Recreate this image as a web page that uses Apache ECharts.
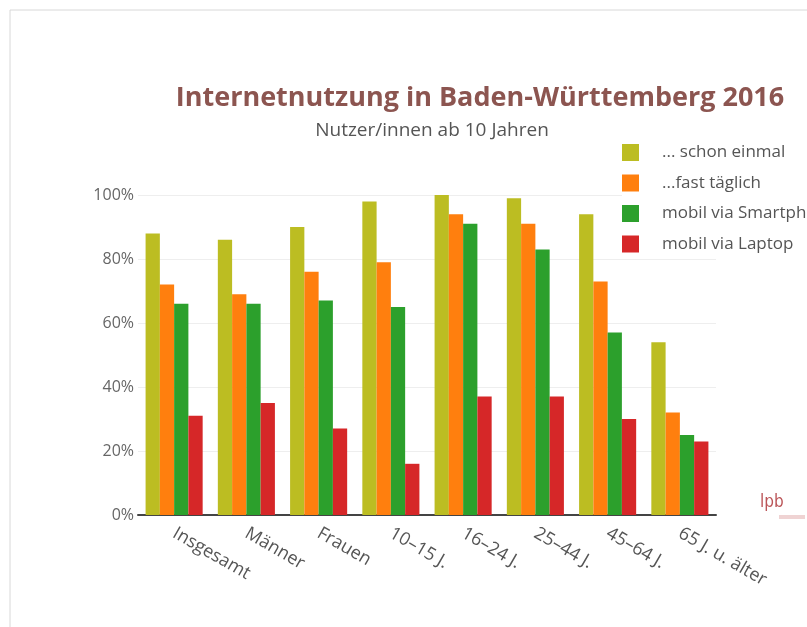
<!DOCTYPE html>
<html>
<head>
<meta charset="utf-8">
<script src="https://cdn.jsdelivr.net/npm/echarts@6/dist/echarts.min.js"></script>
<style>
html, body { margin: 0; padding: 0; background: #fff; }
#main { width: 807px; height: 627px; }
</style>
</head>
<body>
<div id="main"></div>
<script>
var categories = ['Insgesamt', 'Männer', 'Frauen', '10–15 J.', '16–24 J.', '25–44 J.', '45–64 J.', '65 J. u. älter'];
var seriesNames = ['... schon einmal', '...fast täglich', 'mobil via Smartphone', 'mobil via Laptop'];
var schonEinmal = [88, 86, 90, 98, 100, 99, 94, 54];
var fastTaeglich = [72, 69, 76, 79, 94, 91, 73, 32];
var smartphone = [66, 66, 67, 65, 91, 83, 57, 25];
var laptop = [31, 35, 27, 16, 37, 37, 30, 23];
var colors = ['#bcbd22', '#ff7f0e', '#2ca02c', '#d62728'];

var chart = echarts.init(document.getElementById('main'));
var allData = [schonEinmal, fastTaeglich, smartphone, laptop];

var option = {
    animation: false,
    color: colors,
    textStyle: { fontFamily: 'Open Sans' },
    title: [
        {
            text: 'Internetnutzung in Baden-Württemberg 2016',
            left: 475,
            top: 80,
            textAlign: 'center',
            textStyle: { fontSize: 27, fontWeight: 'bold', color: '#8c5550', fontFamily: 'Open Sans' }
        },
        {
            text: 'Nutzer/innen ab 10 Jahren',
            left: 427,
            top: 116,
            textAlign: 'center',
            textStyle: { fontSize: 19, fontWeight: 'normal', color: '#555', fontFamily: 'Open Sans' }
        }
    ],
    legend: {
        orient: 'vertical',
        left: 622,
        top: 144,
        itemWidth: 17,
        itemHeight: 17,
        itemGap: 13.5,
        icon: 'rect',
        backgroundColor: '#fff',
        padding: [0, 0, 0, 0],
        textStyle: { fontSize: 17, color: '#555', padding: [0, 0, 0, 18] },
        data: seriesNames
    },
    grid: { left: 138, right: 91, top: 195, bottom: 112 },
    xAxis: {
        type: 'category',
        data: categories,
        axisLine: { lineStyle: { color: '#444', width: 2 } },
        axisTick: { show: false },
        axisLabel: {
            rotate: -30,
            fontSize: 18,
            color: '#555',
            margin: 17
        }
    },
    yAxis: {
        type: 'value',
        min: 0,
        max: 100,
        interval: 20,
        axisLine: { show: false },
        axisTick: { show: false },
        axisLabel: { formatter: '{value}%', fontSize: 16, color: '#666', margin: 4 },
        splitLine: { lineStyle: { color: '#eeeeee', width: 1 } }
    },
    graphic: [
        {
            type: 'rect',
            shape: { x: 10, y: 10, width: 820, height: 640 },
            style: { fill: 'none', stroke: '#d8d8d8', lineWidth: 1 },
            silent: true,
            z: -10
        },
        {
            type: 'text',
            left: 760,
            top: 494,
            style: { text: 'lpb', fill: '#bb5558', fontSize: 17, fontFamily: 'DejaVu Sans Condensed' }
        },
        {
            type: 'rect',
            shape: { x: 779, y: 515, width: 26, height: 4 },
            style: { fill: '#efd3d3' },
            silent: true
        }
    ],
    series: seriesNames.map(function (name, i) {
        return {
            name: name,
            type: 'bar',
            data: allData[i],
            barGap: '0%',
            barCategoryGap: '21%'
        };
    })
};

chart.setOption(option);
window.onresize = chart.resize;
</script>
</body>
</html>
